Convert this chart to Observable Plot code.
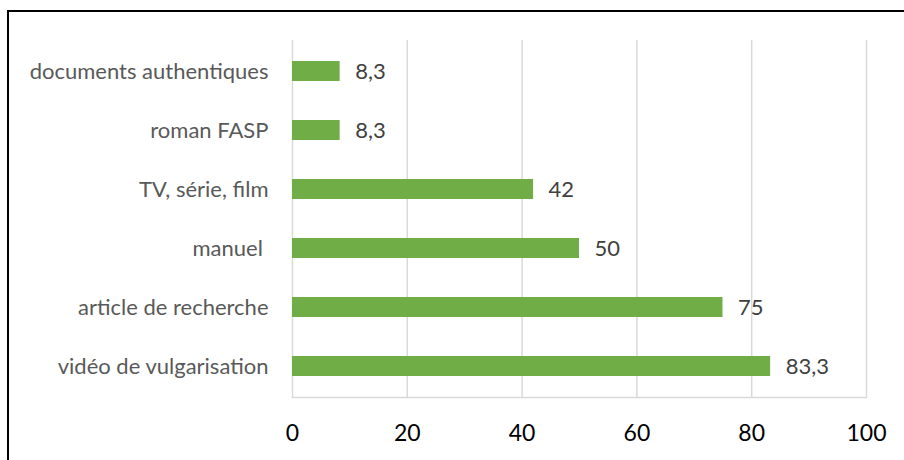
<!DOCTYPE html>
<html>
<head>
<meta charset="utf-8">
<script src="https://cdn.jsdelivr.net/npm/d3@7"></script>
<script src="https://cdn.jsdelivr.net/npm/@observablehq/plot@0.6"></script>
<style>
  html, body { margin: 0; padding: 0; background: #fff; }
  #wrap { position: relative; width: 904px; height: 460px; overflow: hidden; }
  #border { position: absolute; left: 7px; top: 10px; width: 904px; height: 460px;
            border-left: 2px solid #000; border-top: 2px solid #000; box-sizing: border-box; pointer-events: none; }
  svg { font-family: Lato, "Open Sans", sans-serif; }
</style>
</head>
<body>
<div id="wrap"><div id="border"></div></div>
<script>
const categories = ["documents authentiques", "roman FASP", "TV, série, film", "manuel\u00a0", "article de recherche", "vidéo de vulgarisation"];
const values = [8.3, 8.3, 42, 50, 75, 83.3];
const xTicks = [0, 20, 40, 60, 80, 100];

const data = categories.map((c, i) => ({category: c, value: values[i]}));
const fmt = v => String(v).replace(".", ",");

const chart = Plot.plot({
  width: 904,
  height: 460,
  marginLeft: 292,
  marginRight: 38,
  marginTop: 40,
  marginBottom: 63,
  style: {fontFamily: "Lato, 'Open Sans', sans-serif", background: "transparent"},
  x: {domain: [0, 100], axis: null, label: null},
  y: {domain: categories, paddingInner: 0.66, paddingOuter: 0.33, axis: null, label: null},
  marks: [
    Plot.ruleX(xTicks, {stroke: "#d9d9d9", strokeWidth: 1.5}),
    Plot.frame({anchor: "bottom", stroke: "#d9d9d9", strokeWidth: 1.5}),
    Plot.barX(data, {x: "value", y: "category", fill: "#70ad47"}),
    Plot.text(data, {x: "value", y: "category", text: d => fmt(d.value), textAnchor: "start", dx: 15, fill: "#404040", fontSize: 22}),
    Plot.axisY({tickSize: 0, tickPadding: 24, fontSize: 22, color: "#595959", label: null}),
    Plot.axisX({ticks: xTicks, tickSize: 0, tickPadding: 27, fontSize: 23, color: "#000", label: null, tickFormat: d => String(d)})
  ]
});
document.getElementById("wrap").prepend(chart);
</script>
</body>
</html>
